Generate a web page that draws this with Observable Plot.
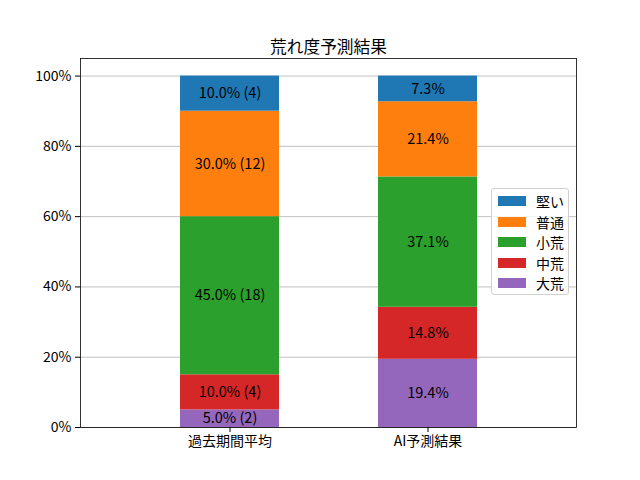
<!DOCTYPE html>
<html>
<head>
<meta charset="utf-8">
<script src="https://cdn.jsdelivr.net/npm/d3@7"></script>
<script src="https://cdn.jsdelivr.net/npm/@observablehq/plot@0.6"></script>
<style>
  html, body { margin: 0; padding: 0; background: white; }
  #wrap { position: relative; width: 640px; height: 480px; font-family: "Noto Sans CJK JP", sans-serif; }
  #legend { position: absolute; left: 491px; top: 188px; width: 78px; height: 107px; box-sizing: border-box;
    border: 1px solid #d0d0d0; border-radius: 3px; background: rgba(255,255,255,0.8); font-size: 14px; }
  .item { position: absolute; left: 6px; height: 20px; display: flex; align-items: center; }
  .sw { width: 28px; height: 10px; margin-right: 10px; }
</style>
</head>
<body>
<div id="wrap"></div>
<script>
const categories = ["過去期間平均", "AI予測結果"];
const levels = ["大荒", "中荒", "小荒", "普通", "堅い"];
const colors = ["#9467bd", "#d62728", "#2ca02c", "#ff7f0e", "#1f77b4"];
const pastPct = [5.0, 10.0, 45.0, 30.0, 10.0];
const pastCounts = [2, 4, 18, 12, 4];
const aiPct = [19.4, 14.8, 37.1, 21.4, 7.3];
const yTicks = [0, 20, 40, 60, 80, 100];
const title = "荒れ度予測結果";
const legendOrder = ["堅い", "普通", "小荒", "中荒", "大荒"];

const rows = [];
levels.forEach((lv, i) => rows.push({cat: categories[0], level: lv, value: pastPct[i], label: `${pastPct[i].toFixed(1)}% (${pastCounts[i]})`}));
levels.forEach((lv, i) => rows.push({cat: categories[1], level: lv, value: aiPct[i], label: `${aiPct[i].toFixed(1)}%`}));

const chart = Plot.plot({
  width: 640, height: 480,
  marginLeft: 80, marginRight: 64, marginTop: 58, marginBottom: 53,
  style: {fontFamily: "'Noto Sans CJK JP', sans-serif", fontSize: "14px", color: "black", background: "white", overflow: "visible"},
  x: {domain: categories, padding: 0.5, label: null},
  y: {domain: [0, 105], label: null},
  color: {domain: levels, range: colors},
  marks: [
    Plot.gridY(yTicks, {stroke: "#b0b0b0", strokeOpacity: 1, strokeWidth: 0.8}),
    Plot.barY(rows, {x: "cat", y: "value", fill: "level", order: levels}),
    Plot.text(rows, Plot.stackY({x: "cat", y: "value", z: "level", order: levels, text: "label", fill: "black", fontSize: 14.5})),
    Plot.frame({stroke: "black", strokeWidth: 0.8}),
    Plot.axisY(yTicks, {tickFormat: d => d + "%", tickSize: 5, tickPadding: 4, label: null, fontSize: 14}),
    Plot.axisX({tickSize: 5, tickPadding: 4, label: null, fontSize: 14}),
    Plot.text([title], {text: d => d, frameAnchor: "top", dy: -17, fontSize: 16.7, fill: "black"})
  ]
});
const wrap = document.getElementById("wrap");
wrap.appendChild(chart);

const legend = document.createElement("div");
legend.id = "legend";
legendOrder.forEach((lv, i) => {
  const it = document.createElement("div");
  it.className = "item";
  it.style.top = (2 + i * 20.6) + "px";
  const sw = document.createElement("div");
  sw.className = "sw";
  sw.style.background = colors[levels.indexOf(lv)];
  const t = document.createElement("span");
  t.textContent = lv;
  it.appendChild(sw); it.appendChild(t);
  legend.appendChild(it);
});
wrap.appendChild(legend);
</script>
</body>
</html>
